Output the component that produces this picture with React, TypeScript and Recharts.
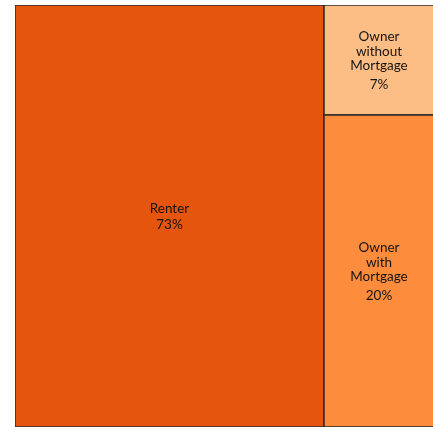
import { Treemap } from 'recharts'

const categories = ['Renter', 'Owner without Mortgage', 'Owner with Mortgage']
const shares = [73, 7, 20]
const colors = ['#e6550d', '#fdbe85', '#fd8d3c']

const data = categories.map((name, i) => ({ name, size: shares[i] }))

function Cell(props: any) {
  const { x, y, width, height, depth, name, size, index } = props
  if (depth !== 1) return null
  const words: string[] = width < 150 ? String(name).split(' ') : [name]
  const gap = words.length > 1 ? 19 : 16
  const span = (words.length - 1) * 14.5 + gap
  const cx = x + width / 2 - (width < 150 ? 2 : 0)
  const top = y + height / 2 - span / 2
  return (
    <g>
      <rect x={x} y={y} width={width} height={height} fill={colors[index % colors.length]} stroke="#2b2b2b" strokeWidth={1.5} />
      <text x={cx} textAnchor="middle" dominantBaseline="central" fill="#141414" fontSize={13.5} fontFamily="Lato, sans-serif">
        {words.map((w, i) => (
          <tspan key={i} x={cx} y={top + i * 14.5}>{w}</tspan>
        ))}
        <tspan x={cx} y={top + span}>{size}%</tspan>
      </text>
    </g>
  )
}

export default function App() {
  return (
    <div style={{ position: 'fixed', left: 15, top: 5, width: 418, height: 422, overflow: 'hidden' }}>
      <Treemap
        width={423}
        height={422}
        data={data}
        dataKey="size"
        nameKey="name"
        content={<Cell />}
        isAnimationActive={false}
      />
    </div>
  )
}
